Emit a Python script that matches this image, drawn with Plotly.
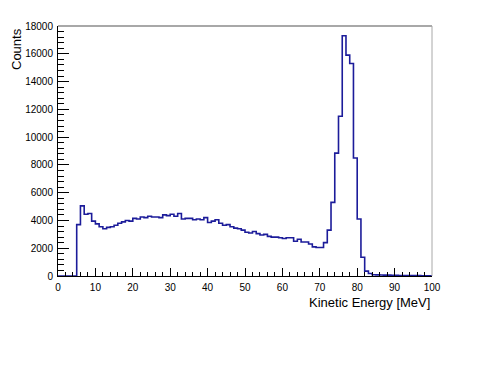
import plotly.graph_objects as go

# Histogram: 100 bins of 1 MeV from 0 to 100
bin_edges = list(range(0, 101))
counts = [
    0, 0, 0, 0, 0, 3700, 5050, 4450, 4500, 3950,
    3750, 3550, 3400, 3500, 3550, 3650, 3800, 3900, 4000, 3950,
    4150, 4100, 4250, 4200, 4300, 4250, 4250, 4200, 4400, 4350,
    4450, 4300, 4500, 4100, 4150, 4150, 4050, 4100, 4050, 4200,
    3850, 3950, 4050, 3800, 3650, 3700, 3550, 3450, 3400, 3300,
    3150, 3100, 3200, 3050, 2950, 3000, 2850, 2800, 2800, 2750,
    2700, 2750, 2750, 2500, 2650, 2450, 2450, 2300, 2100, 2050,
    2050, 2400, 3300, 5300, 8850, 11500, 17300, 15900, 15300, 8500,
    4100, 1350, 350, 180, 90, 80, 70, 60, 60, 50,
    50, 40, 40, 40, 30, 30, 30, 20, 20, 20,
]
x_tick_vals = [0, 10, 20, 30, 40, 50, 60, 70, 80, 90, 100]
y_tick_vals = [0, 2000, 4000, 6000, 8000, 10000, 12000, 14000, 16000, 18000]
x_title = "Kinetic Energy [MeV]"
y_title = "Counts"

# step outline (left edges plus final right edge)
xs = bin_edges
ys = counts + [counts[-1]]

OFF = 8  # page body margin
W, H = 491 - OFF, 368 - OFF
L, R, T, B = 58, 432, 22, 276  # target frame in window pixels

fig = go.Figure()
fig.add_trace(go.Scatter(
    x=xs, y=ys, mode="lines", line_shape="hv",
    line=dict(color="#1c1c9a", width=1.6),
    showlegend=False, hoverinfo="skip", cliponaxis=True,
))

font = "Liberation Sans, Arial, Helvetica, sans-serif"
fig.update_layout(
    width=W, height=H,
    margin=dict(l=L - OFF, r=OFF + W - R, t=T - OFF, b=OFF + H - B, pad=0),
    paper_bgcolor="white", plot_bgcolor="white",
    font=dict(family=font, size=10, color="black"),
    xaxis=dict(
        range=[0, 100], tickvals=x_tick_vals, ticks="inside", ticklen=8,
        tickcolor="black", tickwidth=1, showgrid=False, zeroline=False,
        showline=True, linecolor="black", linewidth=1,
        tickfont=dict(size=10), ticklabelstandoff=2, tickformat="d",
        minor=dict(dtick=2, ticks="inside", ticklen=4, tickcolor="black", showgrid=False),
    ),
    yaxis=dict(
        range=[0, 18000], tickvals=y_tick_vals, ticks="inside", ticklen=11,
        tickcolor="black", tickwidth=1, showgrid=False, zeroline=False,
        showline=True, linecolor="black", linewidth=1,
        tickfont=dict(size=10), ticklabelstandoff=2, tickformat="d",
        minor=dict(dtick=400, ticks="inside", ticklen=5.5, tickcolor="black", showgrid=False),
    ),
    shapes=[
        dict(type="line", xref="paper", yref="paper", x0=0, x1=1, y0=1, y1=1,
             line=dict(color="#a8a8a8", width=2)),
        dict(type="line", xref="paper", yref="paper", x0=1, x1=1, y0=0, y1=1,
             line=dict(color="#a8a8a8", width=1)),
    ],
    annotations=[
        dict(text=x_title, xref="paper", yref="paper", x=1, y=-(303 - B) / (B - T),
             xanchor="right", yanchor="middle", showarrow=False,
             font=dict(size=13, family=font)),
        dict(text=y_title, xref="paper", yref="paper", x=-(L - 16) / (R - L), y=1,
             xanchor="center", yanchor="top", textangle=-90, showarrow=False,
             font=dict(size=13, family=font)),
    ],
)

fig.write_html("out.html")
